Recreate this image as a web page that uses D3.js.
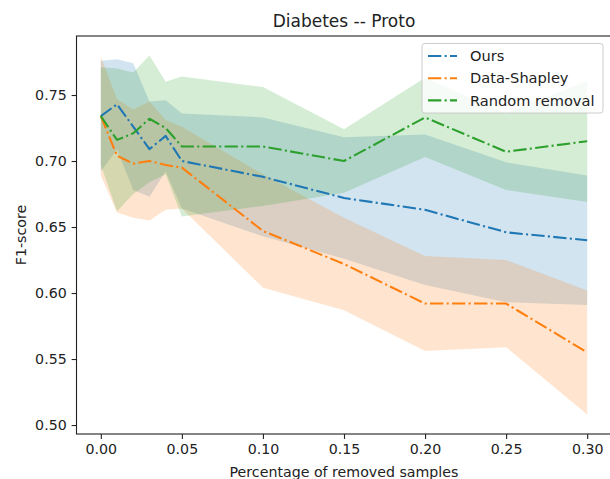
<!DOCTYPE html>
<html>
<head>
<meta charset="utf-8">
<script src="https://cdn.jsdelivr.net/npm/d3@7"></script>
<style>
  html, body { margin: 0; padding: 0; background: #fff; }
  svg { display: block; font-family: "DejaVu Sans", sans-serif; }
</style>
</head>
<body>
<svg id="chart" width="610" height="479"></svg>
<script>
// Fraction of training samples removed
const removed = [0, 0.01, 0.02, 0.03, 0.04, 0.05, 0.10, 0.15, 0.20, 0.25, 0.30];

// Mean F1-score and standard deviation per method
const oursMean     = [0.734, 0.743, 0.726, 0.709, 0.719, 0.700, 0.688, 0.672, 0.663, 0.646, 0.640];
const oursStd      = [0.042, 0.034, 0.048, 0.036, 0.027, 0.036, 0.045, 0.046, 0.057, 0.053, 0.049];
const shapleyMean  = [0.734, 0.704, 0.698, 0.700, 0.697, 0.695, 0.647, 0.622, 0.592, 0.592, 0.555];
const shapleyStd   = [0.045, 0.043, 0.041, 0.045, 0.034, 0.031, 0.043, 0.035, 0.036, 0.033, 0.047];
const randomMean   = [0.734, 0.716, 0.721, 0.732, 0.725, 0.711, 0.711, 0.700, 0.733, 0.707, 0.715];
const randomStd    = [0.037, 0.054, 0.046, 0.048, 0.035, 0.053, 0.045, 0.024, 0.030, 0.029, 0.046];

const seriesNames  = ["Ours", "Data-Shapley", "Random removal"];
const seriesColors = ["#1f77b4", "#ff7f0e", "#2ca02c"];

const xTicks = [0, 0.05, 0.10, 0.15, 0.20, 0.25, 0.30];
const yTicks = [0.50, 0.55, 0.60, 0.65, 0.70, 0.75];

const series = [
  { name: seriesNames[0], color: seriesColors[0], mean: oursMean, std: oursStd },
  { name: seriesNames[1], color: seriesColors[1], mean: shapleyMean, std: shapleyStd },
  { name: seriesNames[2], color: seriesColors[2], mean: randomMean, std: randomStd }
];

const svg = d3.select("#chart");
const plot = { left: 76.5, right: 611.5, top: 36, bottom: 434 };

const x = d3.scaleLinear().domain([-0.015, 0.315]).range([plot.left, plot.right]);
const y = d3.scaleLinear().domain([0.4932, 0.7947]).range([plot.bottom, plot.top]);

const textColor = "#222";
const fontSize = 14.2;
const legendFontSize = 14.6;

// clip marks to the axes box
svg.append("defs").append("clipPath").attr("id", "plotClip")
  .append("rect")
  .attr("x", plot.left).attr("y", plot.top)
  .attr("width", plot.right - plot.left).attr("height", plot.bottom - plot.top);

const marks = svg.append("g").attr("clip-path", "url(#plotClip)");

// ±1 std bands
const band = d3.area()
  .x(d => x(d.x))
  .y0(d => y(d.m - d.s))
  .y1(d => y(d.m + d.s));

series.forEach(s => {
  const pts = removed.map((v, i) => ({ x: v, m: s.mean[i], s: s.std[i] }));
  marks.append("path")
    .attr("d", band(pts))
    .attr("fill", s.color)
    .attr("fill-opacity", 0.2)
    .attr("stroke", "none");
});

// mean curves, dash-dot
const line = d3.line().x(d => x(d.x)).y(d => y(d.m));
const dashDot = "13.3,3.3,2.1,3.3";

series.forEach(s => {
  const pts = removed.map((v, i) => ({ x: v, m: s.mean[i] }));
  marks.append("path")
    .attr("d", line(pts))
    .attr("fill", "none")
    .attr("stroke", s.color)
    .attr("stroke-width", 2.08)
    .attr("stroke-dasharray", dashDot)
    .attr("stroke-linecap", "butt")
    .attr("stroke-linejoin", "round");
});

// axes
const xAxis = d3.axisBottom(x).tickValues(xTicks).tickFormat(d3.format(".2f"))
  .tickSize(4.9).tickPadding(4.9);
const yAxis = d3.axisLeft(y).tickValues(yTicks).tickFormat(d3.format(".2f"))
  .tickSize(4.9).tickPadding(4.9);

const gx = svg.append("g").attr("transform", `translate(0,${plot.bottom})`).call(xAxis);
const gy = svg.append("g").attr("transform", `translate(${plot.left},0)`).call(yAxis);

[gx, gy].forEach(g => {
  g.select(".domain").remove();
  g.selectAll(".tick line").attr("stroke", textColor).attr("stroke-width", 1.1);
  g.selectAll(".tick text")
    .attr("fill", textColor)
    .style("font-size", fontSize + "px")
    .style("font-family", "'DejaVu Sans', sans-serif");
});

// spines
svg.append("rect")
  .attr("x", plot.left).attr("y", plot.top)
  .attr("width", plot.right - plot.left).attr("height", plot.bottom - plot.top)
  .attr("fill", "none").attr("stroke", textColor).attr("stroke-width", 1.1);

// title and axis labels
svg.append("text")
  .attr("x", (plot.left + plot.right) / 2).attr("y", 27.3)
  .attr("text-anchor", "middle")
  .attr("fill", textColor)
  .style("font-size", "17px")
  .text("Diabetes -- Proto");

svg.append("text")
  .attr("x", (plot.left + plot.right) / 2).attr("y", 476.5)
  .attr("text-anchor", "middle")
  .attr("fill", textColor)
  .style("font-size", fontSize + "px")
  .text("Percentage of removed samples");

svg.append("text")
  .attr("transform", `translate(25.5,${(plot.top + plot.bottom) / 2}) rotate(-90)`)
  .attr("text-anchor", "middle")
  .attr("fill", textColor)
  .style("font-size", fontSize + "px")
  .text("F1-score");

// legend
const legend = svg.append("g");
legend.append("rect")
  .attr("x", 422).attr("y", 43.5)
  .attr("width", 181).attr("height", 69.5)
  .attr("rx", 2.8).attr("ry", 2.8)
  .attr("fill", "#fff").attr("fill-opacity", 0.8)
  .attr("stroke", "#cccccc").attr("stroke-width", 1);

series.forEach((s, i) => {
  const cy = 56 + i * 22.2;
  legend.append("line")
    .attr("x1", 428).attr("x2", 457)
    .attr("y1", cy).attr("y2", cy)
    .attr("stroke", s.color)
    .attr("stroke-width", 2.08)
    .attr("stroke-dasharray", dashDot);
  legend.append("text")
    .attr("x", 470).attr("y", cy)
    .attr("dy", "0.36em")
    .attr("fill", textColor)
    .style("font-size", legendFontSize + "px")
    .text(s.name);
});
</script>
</body>
</html>
